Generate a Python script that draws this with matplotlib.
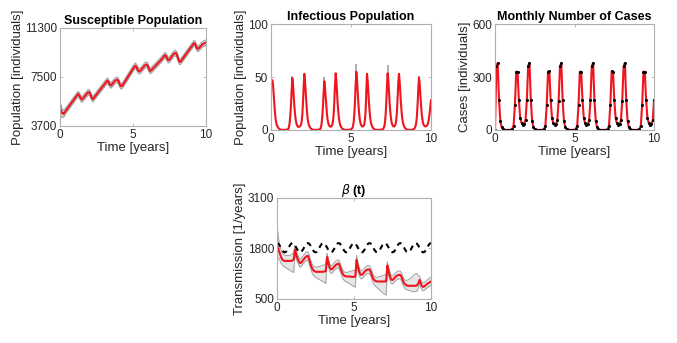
import numpy as np
import matplotlib
matplotlib.use("Agg")
import matplotlib.pyplot as plt

plt.rcParams['font.family'] = ['Liberation Sans', 'DejaVu Sans']

# ---- data ----
# susceptible population, monthly (t = 0 .. 10 years)
sus = [5100, 4850, 4680, 4650, 4780, 4910, 5040, 5170, 5300, 5430, 5560, 5690,
       5820, 5950, 6080, 6180, 6050, 5850, 5760, 5850, 5970, 6090, 6200, 6300,
       6320, 6150, 5900, 5780, 5900, 6020, 6140, 6270, 6390, 6510, 6630, 6750,
       6870, 6990, 7110, 7220, 7080, 6900, 6850, 6960, 7070, 7180, 7260, 7290,
       7200, 6950, 6790, 6800, 6940, 7090, 7240, 7390, 7540, 7690, 7840, 7990,
       8140, 8280, 8370, 8250, 8030, 7940, 7990, 8100, 8210, 8320, 8420, 8460,
       8400, 8150, 7970, 8020, 8120, 8220, 8320, 8420, 8520, 8620, 8720, 8820,
       8930, 9050, 9180, 9150, 8950, 8800, 8850, 8980, 9110, 9240, 9330, 9360,
       9250, 8950, 8700, 8680, 8810, 8940, 9070, 9200, 9330, 9460, 9590, 9720,
       9850, 9980, 10110, 10080, 9830, 9680, 9720, 9820, 9920, 10020, 10090, 10130,
       10160]
sus_err = [520, 420, 320, 260, 230, 220] + [210] * 115

# infectious population, every half month
inf = [41, 46, 47, 43, 34, 24, 16, 10, 6.5, 4.3, 3, 2, 1.3, 0.8, 0.5, 0.3, 0.2, 0.15, 0.1, 0.1, 0.1, 0.15, 0.2, 0.3,
       0.4, 0.6, 1, 3, 7, 14, 24, 38, 49, 43, 33, 23, 15.5, 10, 6.5, 4.5, 3.4, 2.9, 2.9, 3.3, 3.9, 5, 8, 14.5,
       26, 41, 53, 46, 36, 25, 17, 10.5, 6.8, 4.5, 3, 2, 1.3, 0.8, 0.5, 0.3, 0.2, 0.15, 0.1, 0.1, 0.1, 0.15, 0.2, 0.3,
       0.4, 0.6, 1, 2.8, 6.5, 13, 23, 36, 46, 40, 31, 22, 14.5, 9.5, 6.3, 4.5, 3.5, 3.1, 3.2, 3.8, 5.2, 8.5, 15, 27,
       42, 53.5, 47, 36, 25, 17, 10.5, 6.8, 4.5, 3, 2, 1.3, 0.8, 0.5, 0.3, 0.2, 0.15, 0.1, 0.1, 0.1, 0.15, 0.2, 0.3, 0.4,
       0.6, 1, 1.8, 3.3, 7.5, 15, 27, 43, 55, 48, 37, 26, 17, 11, 7, 5, 3.8, 3.3, 3.4, 4, 5.5, 10, 19, 35,
       53, 47, 36, 25, 17, 10.5, 6.8, 4.5, 3, 2, 1.3, 0.8, 0.5, 0.3, 0.2, 0.15, 0.1, 0.1, 0.1, 0.15, 0.2, 0.3, 0.4, 0.6,
       1, 1.8, 3.5, 7.5, 15, 27, 42, 53.5, 47, 36, 25, 17, 11, 7, 5, 3.8, 3.3, 3.4, 4.2, 6, 10, 18, 31, 45,
       53, 46, 35, 24.5, 16.5, 10.5, 6.8, 4.5, 3, 2, 1.3, 0.8, 0.5, 0.3, 0.2, 0.15, 0.1, 0.1, 0.15, 0.2, 0.3, 0.5, 0.8, 1.3,
       2.2, 4, 7.5, 14, 25, 39, 49.5, 44, 34, 24, 16, 10.5, 7, 5, 4, 3.5, 3.4, 3.6, 4.2, 5.3, 7.5, 11, 16, 22,
       28]
# small grey bits of the credible band poking out above some peaks
spike_t = [0.02, 1.33, 3.33, 5.33, 7.29, 9.25]
spike_lo = [41, 48, 45, 54, 52.5, 48.5]
spike_hi = [55, 51, 50, 62, 61, 51]

# monthly number of cases (data dots + fit)
cases = [0, 360, 378, 172, 52, 15, 5, 2, 1, 0.5, 0.5, 1,
         2, 5, 25, 140, 330, 330, 170, 68, 40, 28, 32, 55,
         168, 362, 380, 172, 52, 15, 5, 2, 1, 0.5, 0.5, 1,
         2, 5, 25, 140, 330, 332, 168, 68, 38, 28, 32, 55,
         166, 360, 380, 172, 52, 15, 5, 2, 1, 0.5, 0.5, 1,
         2, 5, 25, 140, 330, 330, 170, 68, 38, 28, 32, 55,
         168, 362, 380, 170, 52, 15, 5, 2, 1, 0.5, 0.5, 1,
         2, 5, 25, 140, 332, 330, 170, 68, 38, 28, 32, 55,
         166, 360, 380, 172, 52, 15, 5, 2, 1, 0.5, 0.5, 1,
         2, 5, 25, 140, 330, 330, 170, 68, 40, 28, 32, 55,
         168]

# transmission rate beta(t), monthly: estimate, band, and true value
beta_fit = [1880, 1790, 1690, 1590, 1520, 1490, 1480, 1480, 1480, 1480, 1480, 1480,
            1490, 1520, 1770, 1640, 1540, 1470, 1420, 1440, 1490, 1530, 1570, 1600,
            1610, 1530, 1410, 1310, 1250, 1220, 1200, 1200, 1200, 1200, 1200, 1200,
            1200, 1210, 1220, 1580, 1430, 1320, 1260, 1270, 1310, 1350, 1380, 1400,
            1410, 1340, 1240, 1160, 1110, 1090, 1080, 1080, 1080, 1080, 1070, 1070,
            1070, 1080, 1500, 1340, 1210, 1130, 1120, 1150, 1190, 1230, 1250, 1260,
            1260, 1200, 1100, 1020, 980, 960, 950, 950, 950, 950, 950, 950,
            950, 960, 1360, 1200, 1080, 1000, 990, 1020, 1060, 1090, 1110, 1120,
            1120, 1070, 980, 910, 870, 850, 840, 840, 840, 840, 840, 840,
            840, 850, 900, 990, 900, 830, 810, 830, 860, 890, 910, 930,
            950]
beta_hi = [2400, 2100, 1900, 1780, 1700, 1650, 1630, 1620, 1620, 1620, 1620, 1640,
           1660, 1700, 1880, 1740, 1640, 1570, 1520, 1540, 1590, 1640, 1680, 1710,
           1720, 1640, 1520, 1420, 1360, 1330, 1320, 1320, 1330, 1340, 1350, 1360,
           1370, 1380, 1400, 1680, 1530, 1420, 1360, 1370, 1410, 1450, 1480, 1500,
           1510, 1440, 1340, 1260, 1210, 1190, 1180, 1190, 1200, 1210, 1220, 1230,
           1240, 1250, 1620, 1450, 1310, 1230, 1220, 1250, 1290, 1330, 1350, 1360,
           1360, 1300, 1200, 1120, 1080, 1060, 1060, 1070, 1080, 1090, 1100, 1110,
           1120, 1130, 1460, 1300, 1180, 1100, 1090, 1120, 1160, 1190, 1210, 1220,
           1220, 1170, 1080, 1010, 980, 980, 990, 1010, 1040, 1070, 1100, 1130,
           1150, 1160, 1100, 1090, 1000, 930, 910, 930, 960, 990, 1010, 1040,
           1060]
beta_lo = [1550, 1560, 1500, 1430, 1380, 1340, 1320, 1300, 1280, 1260, 1240, 1220,
           1200, 1180, 1650, 1540, 1440, 1370, 1320, 1340, 1390, 1430, 1470, 1500,
           1500, 1420, 1300, 1200, 1130, 1090, 1060, 1040, 1020, 1000, 980, 960,
           940, 920, 900, 1480, 1330, 1220, 1160, 1170, 1210, 1250, 1280, 1300,
           1300, 1230, 1130, 1050, 990, 960, 940, 920, 900, 880, 860, 840,
           820, 800, 1380, 1230, 1110, 1030, 1020, 1050, 1090, 1130, 1150, 1160,
           1150, 1090, 990, 900, 850, 820, 790, 760, 730, 700, 670, 640,
           620, 600, 1250, 1100, 980, 900, 890, 920, 960, 990, 1010, 1020,
           1010, 960, 870, 800, 760, 740, 730, 720, 710, 700, 690, 690,
           690, 700, 780, 880, 800, 730, 710, 730, 760, 790, 810, 830,
           850]
beta_true = [1940, 1925, 1880, 1820, 1760, 1715, 1700, 1715, 1760, 1820, 1880, 1925] * 10 + [1940]

t_month = np.arange(len(sus)) / 12.0
t_half = np.arange(len(inf)) / 24.0

RED = '#f0141e'
BAND = '#d4d4d4'
EDGE = '#a0a0a0'
AXC = '#b0b0b0'
TXT = '#262626'


def style(ax, ylim, yticks, ylabel, title):
    ax.set_xlim(0, 10)
    ax.set_ylim(*ylim)
    ax.set_xticks([0, 5, 10])
    ax.set_yticks(yticks)
    for s in ax.spines.values():
        s.set_color(AXC)
        s.set_linewidth(0.8)
    ax.tick_params(direction='in', length=2.5, width=0.6, color=AXC,
                   labelcolor=TXT, labelsize=8.5, top=True, right=True, pad=2)
    ax.set_xlabel('Time [years]', fontsize=9.5, color=TXT, labelpad=1)
    ax.set_ylabel(ylabel, fontsize=9.5, color=TXT, labelpad=1)
    ax.set_title(title, fontsize=9, fontweight='bold', color='black', pad=3)


fig = plt.figure(figsize=(6.77, 3.43), dpi=100)

# Susceptible
ax1 = fig.add_axes([0.0886, 0.6327, 0.2157, 0.2857])
s = np.array(sus)
e = np.array(sus_err)
ax1.fill_between(t_month, s - e, s + e, color=BAND, lw=0)
ax1.plot(t_month, s - e, color=EDGE, lw=0.8)
ax1.plot(t_month, s + e, color=EDGE, lw=0.8)
ax1.plot(t_month, s, color=RED, lw=1.5)
style(ax1, (3700, 11300), [3700, 7500, 11300], 'Population [individuals]', 'Susceptible Population')

# Infectious
ax2 = fig.add_axes([0.4003, 0.6210, 0.2363, 0.3090])
ax2.vlines(spike_t, spike_lo, spike_hi, color=EDGE, lw=1.2)
ax2.plot(t_half, inf, color=RED, lw=1.5)
style(ax2, (0, 100), [0, 50, 100], 'Population [individuals]', 'Infectious Population')

# Monthly cases
ax3 = fig.add_axes([0.7312, 0.6210, 0.2349, 0.3090])
ax3.plot(t_month, cases, color=RED, lw=1.5)
ax3.plot(t_month, cases, 'o', color='black', ms=2.2, mew=0)
style(ax3, (0, 600), [0, 300, 600], 'Cases [individuals]', 'Monthly Number of Cases')

# Transmission
ax4 = fig.add_axes([0.4092, 0.1283, 0.2275, 0.2945])
ax4.fill_between(t_month, beta_lo, beta_hi, color='#e6e6e6', lw=0)
ax4.plot(t_month, beta_lo, color=EDGE, lw=0.7)
ax4.plot(t_month, beta_hi, color=EDGE, lw=0.7)
ax4.plot(t_month, beta_true, color='black', lw=1.5, linestyle=(0, (2.5, 2.2)))
ax4.plot(t_month, beta_fit, color=RED, lw=1.5)
style(ax4, (500, 3100), [500, 1800, 3100], 'Transmission [1/years]', r'$\beta$ (t)')

plt.savefig('out.png', dpi=100)
